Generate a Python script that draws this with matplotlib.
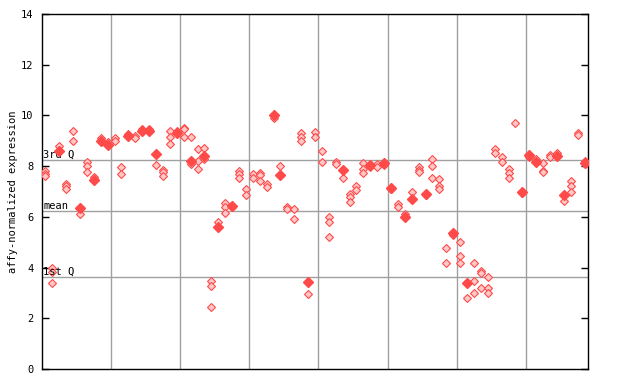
# expression profile: replicate points per sample plus a filled marker
import numpy as np
import matplotlib.pyplot as plt

# replicate values per sample (hollow diamonds)
reps = [
    [7.8, 7.7, 7.6], [3.98, 3.83, 3.4], [8.8], [7.3, 7.2, 7.1], [9.38, 8.98],
    [6.1], [8.15, 8.0, 7.77], [7.57, 7.5], [9.1], [8.95],
    [9.1, 9.0], [7.95, 7.7], [9.27], [9.2, 9.1], [9.45],
    [9.45], [8.03], [7.85, 7.77, 7.6], [9.38, 9.15, 8.87], [9.4],
    [9.5, 9.45, 9.15], [9.15, 8.1], [8.67, 8.2, 7.9], [8.7, 8.28], [3.47, 3.27, 2.44],
    [5.8], [6.55, 6.4, 6.15], [6.4], [7.8, 7.7, 7.55], [7.1, 6.85],
    [7.7, 7.55], [7.73, 7.65, 7.4], [7.3, 7.18], [9.9], [8.0],
    [6.4, 6.3], [6.3, 5.9], [9.3, 9.15, 9.0], [2.95], [9.35, 9.15],
    [8.6, 8.15], [6.0, 5.8, 5.2], [8.15, 8.1], [7.53], [6.9, 6.78, 6.58],
    [7.2, 7.05], [8.12, 7.9, 7.73], [7.95], [8.08, 7.97], [8.05],
    [7.1], [6.5, 6.4], [6.1], [7.0], [7.97, 7.85, 7.77],
    [6.85], [8.27, 8.0, 7.53], [7.5, 7.2, 7.1], [4.77, 4.18], [5.3],
    [5.0, 4.45, 4.18], [2.8], [4.18, 3.47, 3.0], [3.86, 3.78, 3.19], [3.63, 3.19, 3.0],
    [8.67, 8.52], [8.36, 8.17], [7.9, 7.73, 7.53], [9.7], [6.95],
    [8.36], [8.27], [8.12, 7.8, 7.77], [8.43, 8.36], [8.5],
    [6.62], [7.4, 7.2, 7.0], [9.3, 9.22], [8.2],
]

# filled marker per sample (nan = none)
nan = np.nan
means = [
    nan, nan, 8.6, nan, nan, 6.35, nan, 7.45, 9.0, 8.83,
    nan, nan, 9.2, nan, 9.4, 9.4, 8.48, nan, nan, 9.3,
    nan, 8.2, nan, 8.4, nan, 5.6, nan, 6.43, nan, nan,
    nan, nan, nan, 10.0, 7.65, nan, nan, nan, 3.43, nan,
    nan, nan, nan, 7.85, nan, nan, nan, 8.05, nan, 8.12,
    7.15, nan, 6.0, 6.7, nan, 6.9, nan, nan, nan, 5.37,
    nan, 3.4, nan, nan, nan, nan, nan, nan, nan, 6.98,
    8.43, 8.17, nan, nan, 8.4, 6.86, nan, nan, 8.12,
]

q1, mean_val, q3 = 3.62, 6.22, 8.23
RED = "#ff4a4a"
MONO = "DejaVu Sans Mono"

fig = plt.figure(figsize=(6.4, 3.84), dpi=100)
ax = fig.add_axes([42 / 640, 15 / 384, 546 / 640, 355 / 384])

n = len(reps)
for i, vals in enumerate(reps):
    x = i + 1
    ax.plot([x] * len(vals), vals, linestyle="none", marker="D", ms=3.6,
            mfc="#ffc8c8", mec=RED, mew=0.8, zorder=3)
xs = np.arange(1, n + 1)
ax.plot(xs, means, linestyle="none", marker="D", ms=5, mfc=RED, mec=RED, zorder=4)

# grid
for gx in np.arange(10.5, n, 10):
    ax.axvline(gx, color="#a0a0a0", lw=1, zorder=1)
for qy in (q1, mean_val, q3):
    ax.axhline(qy, color="#a0a0a0", lw=1, zorder=1)

for lab, qy in (("3rd Q", q3), ("mean", mean_val), ("1st Q", q1)):
    ax.text(0.002, qy + 0.03, lab, va="bottom", ha="left", family=MONO, fontsize=7.5,
            transform=ax.get_yaxis_transform())

ax.set_xlim(0.5, n + 0.5)
ax.set_ylim(0, 14)
ax.set_yticks(range(0, 15, 2))
ax.set_xticks([])
ax.tick_params(axis="y", direction="in", length=5, width=1, labelsize=7.5,
               right=True, pad=6)
for lbl in ax.get_yticklabels():
    lbl.set_family(MONO)
ax.set_ylabel("affy-normalized expression", family=MONO, fontsize=7.5, labelpad=2)
for s in ax.spines.values():
    s.set_linewidth(1)

fig.savefig("out.png", dpi=100)
